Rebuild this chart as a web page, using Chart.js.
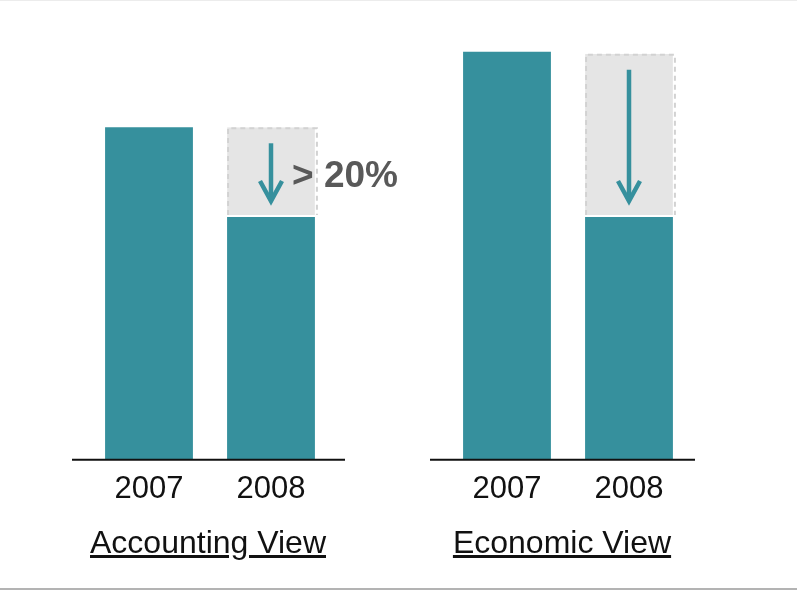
<!DOCTYPE html>
<html>
<head>
<meta charset="utf-8">
<script src="https://cdn.jsdelivr.net/npm/chart.js@4.4.0/dist/chart.umd.min.js"></script>
<style>
  html, body { margin: 0; padding: 0; background: #fff; }
  body { width: 797px; height: 590px; position: relative; overflow: hidden; font-family: "Liberation Sans", Arial, sans-serif; }
  .topline { position: absolute; left: 0; top: 0; width: 797px; height: 1px; background: #ececec; }
  .bottomline { position: absolute; left: 0; top: 588px; width: 797px; height: 2px; background: #b3b3b3; }
  #accounting { position: absolute; left: 0; top: 0; }
  #economic { position: absolute; left: 420px; top: 0; }
  .view { position: absolute; top: 525px; font-size: 32px; line-height: 34px; color: #111; text-decoration: underline; white-space: nowrap; transform: translateX(-50%); }
</style>
</head>
<body>
<div class="topline"></div>
<canvas id="accounting" width="420" height="590"></canvas>
<canvas id="economic" width="377" height="590"></canvas>
<div class="view" style="left:208px">Accounting View</div>
<div class="view" style="left:562px">Economic View</div>
<div class="bottomline"></div>

<script>
// data
const years = ["2007", "2008"];
const accountingValues = [8.15, 5.95];
const accountingDrop = [0, 2.2];
const economicValues = [10.0, 5.95];
const economicDrop = [0, 4.0];
const accountingNote = "> 20%";

const TEAL = "#36909d";
const FONT = "'Liberation Sans', Arial, sans-serif";

// extra decoration: long baseline, dashed box round the drop, arrow, note
const decorPlugin = {
    id: "decor",
    afterDatasetsDraw(chart, args, opts) {
        const ctx = chart.ctx;
        const area = chart.chartArea;
        const base = chart.scales.y.getPixelForValue(0);
        const solid = chart.getDatasetMeta(0).data[1];
        const drop = chart.getDatasetMeta(1).data[1];

        ctx.save();
        // dashed outline of the missing part
        const left = drop.x - drop.width / 2;
        ctx.strokeStyle = "#d2d2d2";
        ctx.lineWidth = 2;
        ctx.setLineDash([5, 4]);
        ctx.beginPath();
        ctx.moveTo(left + 1, drop.base - 2);
        ctx.lineTo(left + 1, drop.y + 1);
        ctx.lineTo(left + drop.width + 2, drop.y + 1);
        ctx.lineTo(left + drop.width + 2, drop.base - 2);
        ctx.stroke();
        ctx.setLineDash([]);

        // arrow
        const top = drop.y + 16;
        const tip = solid.y - 15;
        ctx.strokeStyle = TEAL;
        ctx.lineWidth = 4.5;
        ctx.beginPath();
        ctx.moveTo(drop.x, top);
        ctx.lineTo(drop.x, tip - 2);
        ctx.stroke();
        ctx.beginPath();
        ctx.moveTo(drop.x - 11, tip - 21);
        ctx.lineTo(drop.x, tip - 1);
        ctx.lineTo(drop.x + 11, tip - 21);
        ctx.stroke();

        if (opts.note) {
            ctx.fillStyle = "#595959";
            ctx.font = "bold 37px " + FONT;
            ctx.textAlign = "left";
            ctx.textBaseline = "middle";
            ctx.fillText(opts.note, drop.x + 21, (drop.y + drop.base) / 2 + 5);
        }

        // axis line
        ctx.strokeStyle = "#111";
        ctx.lineWidth = 2;
        ctx.beginPath();
        ctx.moveTo(area.left - opts.extend[0], base);
        ctx.lineTo(area.right + opts.extend[1], base);
        ctx.stroke();
        ctx.restore();
    }
};

function makeChart(id, values, dropValues, padding, extend, note) {
    return new Chart(document.getElementById(id), {
        type: "bar",
        data: {
            labels: years,
            datasets: [
                {
                    data: values,
                    backgroundColor: TEAL,
                    borderWidth: 0,
                    categoryPercentage: 1,
                    barPercentage: 0.72
                },
                {
                    data: dropValues,
                    backgroundColor: "#e5e5e5",
                    borderColor: "#ffffff",
                    borderWidth: { bottom: 2 },
                    borderSkipped: false,
                    categoryPercentage: 1,
                    barPercentage: 0.72
                }
            ]
        },
        options: {
            responsive: false,
            animation: false,
            layout: { padding: padding },
            plugins: {
                legend: { display: false },
                tooltip: { enabled: false },
                decor: { extend: extend, note: note }
            },
            scales: {
                x: {
                    stacked: true,
                    grid: { display: false },
                    border: { display: false },
                    ticks: {
                        color: "#111",
                        font: { family: FONT, size: 31 },
                        padding: 3,
                        maxRotation: 0,
                        autoSkip: false
                    }
                },
                y: {
                    stacked: true,
                    display: false,
                    min: 0,
                    max: 11
                }
            }
        },
        plugins: [decorPlugin]
    });
}

makeChart("accounting", accountingValues, accountingDrop,
    { left: 88, right: 88, top: 11, bottom: 79 }, [16, 13], accountingNote);
makeChart("economic", economicValues, economicDrop,
    { left: 26, right: 107, top: 11, bottom: 79 }, [16, 5], null);
</script>
</body>
</html>
